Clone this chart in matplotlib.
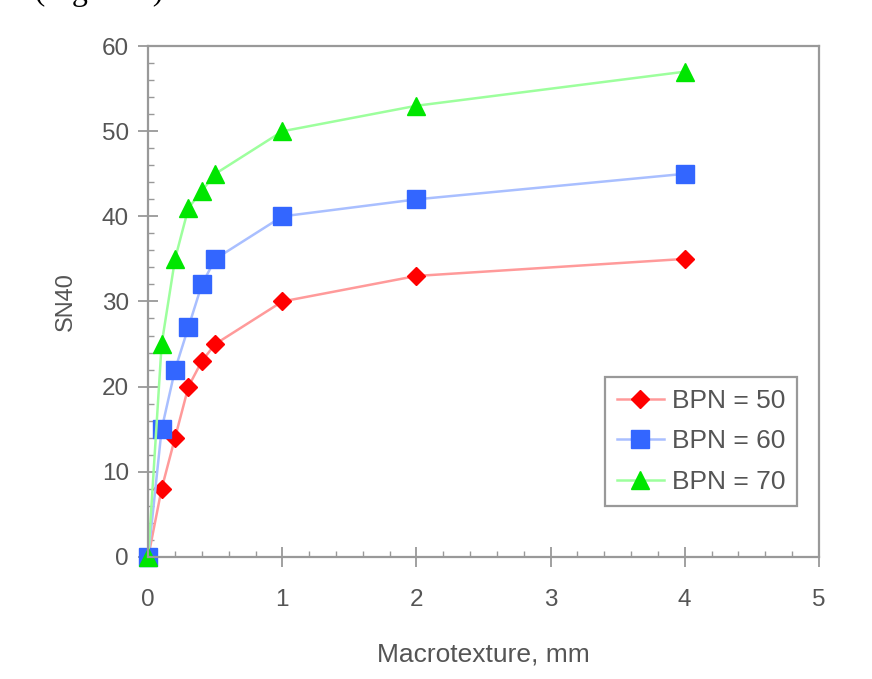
import matplotlib.pyplot as plt
from matplotlib.ticker import MultipleLocator

plt.rcParams['font.family'] = ['Liberation Sans', 'DejaVu Sans']

x_vals = [0, 0.1, 0.2, 0.3, 0.4, 0.5, 1, 2, 4]
bpn50 = [0, 8, 14, 20, 23, 25, 30, 33, 35]
bpn60 = [0, 15, 22, 27, 32, 35, 40, 42, 45]
bpn70 = [0, 25, 35, 41, 43, 45, 50, 53, 57]

labels = ['BPN = 50', 'BPN = 60', 'BPN = 70']
line_cols = ['#ff9a9a', '#a9bfff', '#9dff9d']
mark_cols = ['#ff0000', '#3366ff', '#00e600']
markers = ['D', 's', '^']
msizes = [9.5, 12.5, 13]

fig = plt.figure(figsize=(8.72, 6.79), dpi=100)
ax = fig.add_axes([0.170, 0.180, 0.769, 0.752])

for ys, lab, lc, mc, mk, ms in zip([bpn50, bpn60, bpn70], labels, line_cols,
                                   mark_cols, markers, msizes):
    ax.plot(x_vals, ys, color=lc, lw=1.8, marker=mk, markersize=ms,
            markerfacecolor=mc, markeredgecolor=mc, label=lab, clip_on=False)

ax.set_xlim(0, 5)
ax.set_ylim(0, 60)
ax.xaxis.set_major_locator(MultipleLocator(1))
ax.xaxis.set_minor_locator(MultipleLocator(0.2))
ax.yaxis.set_major_locator(MultipleLocator(10))
ax.yaxis.set_minor_locator(MultipleLocator(2))

gray = '#999999'
for s in ax.spines.values():
    s.set_color(gray)
    s.set_linewidth(1.6)

txt = '#555555'
ax.tick_params(which='major', direction='inout', length=14, width=1.3,
               color=gray, labelsize=17.5, labelcolor=txt)
ax.tick_params(axis='x', which='major', pad=16)
ax.tick_params(axis='y', which='major', pad=7)
ax.tick_params(which='minor', direction='in', length=4, width=1.0, color=gray)

ax.set_xlabel('Macrotexture, mm', fontsize=19, color=txt, labelpad=23)
ax.set_ylabel('SN40', fontsize=17, color=txt, labelpad=18)

leg = ax.legend(loc='lower right', bbox_to_anchor=(0.968, 0.100), fontsize=19,
                fancybox=False, framealpha=1, edgecolor=gray, handlelength=1.8,
                handletextpad=0.3, borderpad=0.45, labelspacing=0.62,
                borderaxespad=0)
leg.get_frame().set_linewidth(1.6)
for t in leg.get_texts():
    t.set_color(txt)

fig.text(0.0, 1.0, 'es (Figure 4).', fontsize=23, family='Liberation Serif',
         va='baseline', ha='left')

fig.savefig('out.png', dpi=100)
